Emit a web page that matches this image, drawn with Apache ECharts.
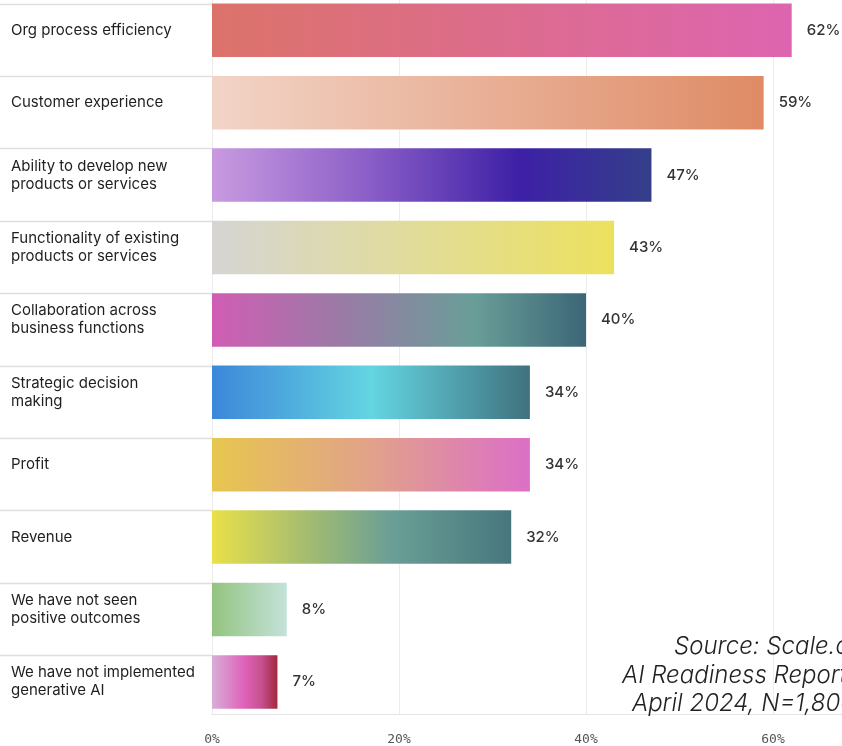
<!DOCTYPE html>
<html>
<head>
<meta charset="utf-8">
<script src="https://cdn.jsdelivr.net/npm/echarts@6/dist/echarts.min.js"></script>
<style>
html,body{margin:0;padding:0;background:#fff;}
#chart{width:842px;height:746px;}
</style>
</head>
<body>
<div id="chart"></div>
<script>
// ---- data ----
var categories = [
  "Org process efficiency",
  "Customer experience",
  "Ability to develop new\nproducts or services",
  "Functionality of existing\nproducts or services",
  "Collaboration across\nbusiness functions",
  "Strategic decision\nmaking",
  "Profit",
  "Revenue",
  "We have not seen\npositive outcomes",
  "We have not implemented\ngenerative AI"
];
var values = [62, 59, 47, 43, 40, 34, 34, 32, 8, 7];
var xTicks = [0, 20, 40, 60];
var sourceLines = ["Source: Scale.com", "AI Readiness Report", "April 2024, N=1,800"];

// ---- styles ----
var gradients = [
  [[0,'#dc736a'],[1,'#dd65b0']],
  [[0,'#f2d4c7'],[1,'#df8b65']],
  [[0,'#c99ae0'],[0.35,'#8c5fc8'],[0.7,'#3d20a6'],[1,'#343f8a']],
  [[0,'#d6d5d3'],[0.5,'#e1dc9a'],[1,'#ece15e']],
  [[0,'#d15db4'],[0.35,'#9a7ba6'],[0.7,'#699e98'],[1,'#3b6677']],
  [[0,'#3c87d9'],[0.5,'#64d5e2'],[1,'#3f727e']],
  [[0,'#e7c64f'],[0.5,'#e1a28a'],[1,'#dc6fc7']],
  [[0,'#e9e04a'],[0.3,'#a8be6e'],[0.6,'#6a9f96'],[1,'#47777d']],
  [[0,'#93c47f'],[1,'#c4e2da']],
  [[0,'#d8afd8'],[0.5,'#de62b8'],[0.75,'#c7508f'],[1,'#a3283d']]
];
function grad(stops){
  return new echarts.graphic.LinearGradient(0,0,1,0, stops.map(function(s){return {offset:s[0], color:s[1]};}));
}

var PX_PER = 9.35;
var LEFT = 212;
var WIDTH = 842 - LEFT;
var XMAX = WIDTH / PX_PER;
var BAR_W = 53.5;
var BAND = 72.4;
var FIRST_CENTER = 30.3;

var chart = echarts.init(document.getElementById('chart'), null, {renderer:'canvas'});
var option = {
  animation: false,
  backgroundColor: '#ffffff',
  grid: [
    {left: LEFT, top: FIRST_CENTER, width: WIDTH, height: BAND*(categories.length-1), containLabel:false},
    {left: LEFT, top: 0, width: WIDTH, height: 714, containLabel:false}
  ],
  xAxis: [
    {gridIndex:0, type:'value', min:0, max:XMAX, show:false},
    {gridIndex:1, type:'value', min:0, max:XMAX, interval:20,
      axisLine:{show:true, lineStyle:{color:'#e4e4e4', width:1}},
      axisTick:{show:false},
      splitLine:{show:true, lineStyle:{color:'#ececec', width:1}},
      axisLabel:{
        margin: 19,
        color:'#555',
        fontFamily:'DejaVu Sans Mono',
        fontSize:13,
        showMaxLabel:false,
        formatter:function(v){ return xTicks.indexOf(v) >= 0 ? v + '%' : ''; }
      }
    }
  ],
  yAxis: [
    {gridIndex:0, type:'category', data:categories, inverse:true, boundaryGap:false,
      axisLine:{show:false}, axisTick:{show:false}, splitLine:{show:false},
      axisLabel:{
        align:'left', margin: LEFT - 11,
        color:'#1f1f1f', fontFamily:'Inter', fontSize:15, lineHeight:18
      }
    },
    {gridIndex:1, type:'value', show:false}
  ],
  series: [
    {
      type:'bar', xAxisIndex:0, yAxisIndex:0,
      barWidth: BAR_W,
      clip:false,
      data: values.map(function(v,i){ return {value:v, itemStyle:{color:grad(gradients[i])}}; }),
      label:{
        show:true, position:'right', distance:15,
        formatter:'{c}%', color:'#333', fontFamily:'Inter', fontSize:15, fontWeight:500
      },
      z: 3
    },
    {
      type:'custom', xAxisIndex:0, yAxisIndex:0,
      clip:false, silent:true,
      data: categories.map(function(c,i){ return [0, i]; }),
      encode:{x:0, y:1},
      renderItem: function(params, api){
        var c = api.coord([0, api.value(1)]);
        var y = Math.round(c[1] - BAR_W/2) + 0.5;
        return {type:'line', shape:{x1:0, y1:y, x2:c[0], y2:y},
          style:{stroke:'#dedede', lineWidth:1.5}};
      },
      z: 2
    }
  ],
  graphic: sourceLines.map(function(t, i){
    var lefts = [674, 622, 632];
    var tops = [649, 678, 706];
    return {type:'text', left: lefts[i], top: tops[i] - 14, z: 10,
      style:{text:t, fill:'#222', font:'italic 300 24px Inter', textVerticalAlign:'top'}};
  })
};
chart.setOption(option);
</script>
</body>
</html>
